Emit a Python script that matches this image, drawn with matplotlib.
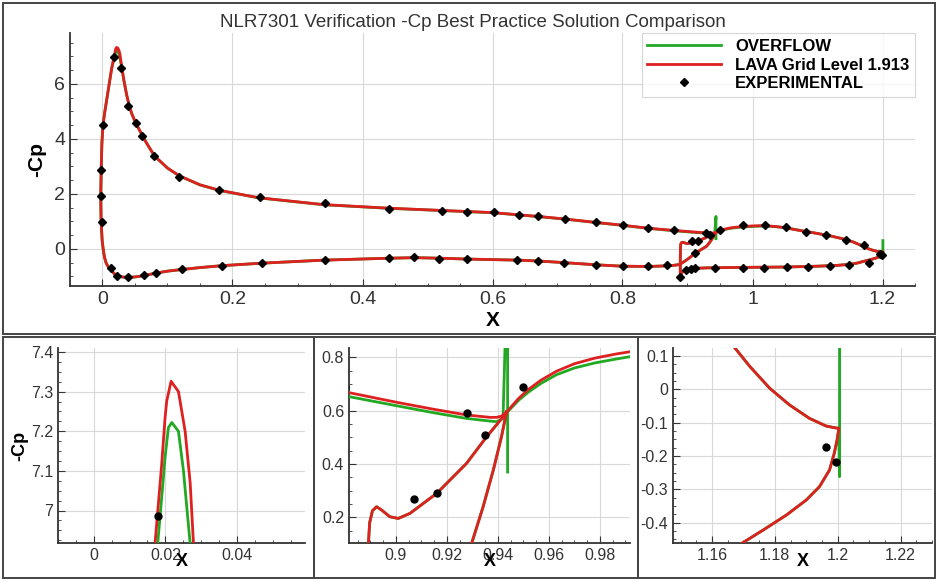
import matplotlib
matplotlib.use("Agg")
import matplotlib.pyplot as plt
from matplotlib.patches import Rectangle
from matplotlib.ticker import MultipleLocator, FuncFormatter

plt.rcParams["font.family"] = ["Liberation Sans", "DejaVu Sans"]
plt.rcParams["axes.unicode_minus"] = False

# LAVA main element: trailing edge -> upper surface -> leading edge -> lower surface -> cove -> trailing edge
lava_main_x = [0.9434, 0.9415, 0.9395, 0.9369, 0.9277, 0.915, 0.900, 0.8817, 0.860, 0.840,
               0.800, 0.760, 0.710, 0.670, 0.640, 0.600, 0.560, 0.520, 0.440, 0.340,
               0.240, 0.180, 0.150, 0.118, 0.100, 0.080, 0.067, 0.061, 0.056, 0.051,
               0.045, 0.041, 0.037, 0.033, 0.0305, 0.0292, 0.02785, 0.02692, 0.02551, 0.02365,
               0.02159, 0.02037, 0.01991, 0.01897, 0.01804, 0.0171, 0.014, 0.010, 0.006, 0.003,
               0.0013, 0.0005, -0.0010, -0.0020, -0.0028, -0.0022, -0.0005, 0.0010, 0.0030, 0.0057,
               0.0095, 0.0134, 0.018, 0.0235, 0.030, 0.039, 0.050, 0.062, 0.0825, 0.100,
               0.122, 0.150, 0.184, 0.245, 0.340, 0.440, 0.480, 0.520, 0.560, 0.600,
               0.640, 0.670, 0.710, 0.760, 0.800, 0.840, 0.865, 0.878, 0.888, 0.900,
               0.912, 0.922, 0.9297, 0.9342, 0.9382, 0.9414, 0.9434]
lava_main_cp = [0.596, 0.580, 0.575, 0.575, 0.584, 0.605, 0.632, 0.6675, 0.710, 0.750,
                0.860, 0.960, 1.090, 1.180, 1.240, 1.320, 1.360, 1.400, 1.480, 1.610,
                1.860, 2.130, 2.330, 2.660, 2.940, 3.380, 3.880, 4.140, 4.360, 4.580,
                4.920, 5.220, 5.620, 6.120, 6.480, 6.680, 6.916, 7.070, 7.200, 7.300,
                7.326, 7.276, 7.234, 7.117, 7.017, 6.916, 6.550, 5.950, 5.350, 4.900,
                4.600, 4.450, 3.800, 2.900, 1.930, 1.000, 0.300, 0.000, -0.300, -0.520,
                -0.680, -0.780, -0.900, -0.980, -1.020, -1.040, -1.020, -0.980, -0.880, -0.810,
                -0.750, -0.680, -0.610, -0.520, -0.410, -0.340, -0.320, -0.340, -0.370, -0.390,
                -0.410, -0.440, -0.500, -0.580, -0.630, -0.640, -0.620, -0.600, -0.570, -0.380,
                -0.160, -0.010, 0.1025, 0.240, 0.3775, 0.5025, 0.596]

# OVERFLOW main element (trailing edge closure drawn as a vertical stroke)
ovf_main_x = [0.9438, 0.9438, 0.9420, 0.9395, 0.9369, 0.9277, 0.915, 0.900, 0.8817, 0.860,
              0.840, 0.800, 0.760, 0.710, 0.670, 0.640, 0.600, 0.560, 0.520, 0.440,
              0.340, 0.240, 0.180, 0.150, 0.118, 0.100, 0.080, 0.067, 0.061, 0.056,
              0.051, 0.045, 0.041, 0.037, 0.033, 0.0305, 0.0292, 0.02692, 0.02598, 0.02505,
              0.02365, 0.02178, 0.02084, 0.01991, 0.01897, 0.01785, 0.014, 0.010, 0.006, 0.003,
              0.0013, 0.0005, -0.0010, -0.0020, -0.0028, -0.0022, -0.0005, 0.0010, 0.0030, 0.0057,
              0.0095, 0.0134, 0.018, 0.0235, 0.030, 0.039, 0.050, 0.062, 0.0825, 0.100,
              0.122, 0.150, 0.184, 0.245, 0.340, 0.440, 0.480, 0.520, 0.560, 0.600,
              0.640, 0.670, 0.710, 0.760, 0.800, 0.840, 0.865, 0.878, 0.888, 0.900,
              0.912, 0.922, 0.9297, 0.9342, 0.9382, 0.9414, 0.9434]
ovf_main_cp = [0.370, 1.180, 0.571, 0.559, 0.561, 0.571, 0.592, 0.619, 0.6525, 0.700,
               0.745, 0.855, 0.955, 1.085, 1.175, 1.235, 1.315, 1.355, 1.395, 1.475,
               1.605, 1.855, 2.125, 2.325, 2.655, 2.935, 3.375, 3.875, 4.135, 4.355,
               4.575, 4.915, 5.215, 5.615, 6.115, 6.475, 6.670, 6.916, 7.008, 7.100,
               7.200, 7.222, 7.209, 7.134, 7.033, 6.916, 6.550, 5.950, 5.350, 4.900,
               4.600, 4.450, 3.800, 2.900, 1.930, 1.000, 0.300, 0.000, -0.300, -0.520,
               -0.680, -0.780, -0.900, -0.980, -1.020, -1.040, -1.020, -0.980, -0.880, -0.810,
               -0.750, -0.680, -0.610, -0.520, -0.410, -0.340, -0.320, -0.340, -0.370, -0.390,
               -0.410, -0.440, -0.500, -0.580, -0.630, -0.640, -0.620, -0.600, -0.570, -0.380,
               -0.160, -0.010, 0.1025, 0.240, 0.3775, 0.5025, 0.596]

# LAVA flap: trailing edge -> upper surface -> leading edge -> lower surface -> trailing edge
lava_flap_x = [1.2003, 1.1989, 1.1963, 1.1910, 1.1847, 1.1784, 1.1721, 1.1674, 1.155, 1.140,
               1.120, 1.100, 1.080, 1.050, 1.035, 1.020, 1.010, 1.000, 0.9918, 0.986,
               0.978, 0.970, 0.963, 0.957, 0.952, 0.948, 0.9447, 0.9421, 0.9356, 0.9277,
               0.916, 0.9055, 0.9009, 0.8976, 0.8944, 0.8924, 0.8908, 0.8897, 0.8892, 0.8889,
               0.8889, 0.8891, 0.8900, 0.8920, 0.8950, 0.900, 0.910, 0.930, 0.960, 1.000,
               1.050, 1.100, 1.130, 1.150, 1.1625, 1.1695, 1.1763, 1.1837, 1.1900, 1.1942,
               1.1974, 1.1989, 1.1998, 1.2003]
lava_flap_cp = [-0.117, -0.115, -0.110, -0.087, -0.047, 0.003, 0.068, 0.123, 0.250, 0.360,
                0.470, 0.560, 0.640, 0.770, 0.815, 0.840, 0.842, 0.834, 0.821, 0.812,
                0.797, 0.776, 0.748, 0.715, 0.680, 0.645, 0.609, 0.5775, 0.5025, 0.4025,
                0.290, 0.215, 0.196, 0.2025, 0.2275, 0.240, 0.225, 0.180, 0.100, -0.400,
                -0.850, -0.980, -0.930, -0.840, -0.780, -0.740, -0.710, -0.690, -0.680, -0.670,
                -0.660, -0.630, -0.600, -0.560, -0.510, -0.462, -0.422, -0.377, -0.332, -0.292,
                -0.242, -0.192, -0.152, -0.122]

# OVERFLOW flap (trailing edge closure drawn as a vertical stroke)
ovf_flap_x = [1.2003, 1.1989, 1.1963, 1.1910, 1.1847, 1.1784, 1.1721, 1.1674, 1.155, 1.140,
              1.120, 1.100, 1.080, 1.050, 1.035, 1.020, 1.010, 1.000, 0.9918, 0.986,
              0.978, 0.970, 0.963, 0.957, 0.952, 0.948, 0.9447, 0.9421, 0.9356, 0.9277,
              0.916, 0.9055, 0.9009, 0.8976, 0.8944, 0.8924, 0.8908, 0.8897, 0.8892, 0.8889,
              0.8889, 0.8891, 0.8900, 0.8920, 0.8950, 0.900, 0.910, 0.930, 0.960, 1.000,
              1.050, 1.100, 1.130, 1.150, 1.1625, 1.1695, 1.1763, 1.1837, 1.1900, 1.1942,
              1.1974, 1.1989, 1.1998, 1.2003, 1.2006, 1.2006]
ovf_flap_cp = [-0.117, -0.115, -0.110, -0.087, -0.047, 0.003, 0.068, 0.123, 0.250, 0.360,
               0.470, 0.560, 0.640, 0.770, 0.810, 0.830, 0.826, 0.815, 0.8025, 0.793,
               0.779, 0.760, 0.735, 0.703, 0.670, 0.638, 0.605, 0.5775, 0.5025, 0.4025,
               0.290, 0.215, 0.196, 0.2025, 0.2275, 0.240, 0.225, 0.180, 0.100, -0.400,
               -0.850, -0.980, -0.930, -0.840, -0.780, -0.740, -0.710, -0.690, -0.680, -0.670,
               -0.660, -0.630, -0.600, -0.560, -0.510, -0.462, -0.422, -0.377, -0.332, -0.292,
               -0.242, -0.192, -0.152, -0.122, -0.262, 0.300]

# experimental pressure taps
exp_x = [-0.0005, -0.0028, -0.0020, 0.0005, 0.0179, 0.0280, 0.040, 0.051, 0.061, 0.079,
         0.118, 0.180, 0.243, 0.343, 0.441, 0.522, 0.561, 0.602, 0.641, 0.670,
         0.712, 0.760, 0.801, 0.840, 0.880, 0.928,
         0.0134, 0.022, 0.039, 0.0645, 0.0825, 0.122, 0.184, 0.245, 0.343, 0.441,
         0.479, 0.518, 0.561, 0.638, 0.670, 0.710, 0.759, 0.801, 0.839, 0.869, 0.912,
         0.907, 0.916, 0.935, 0.950, 0.986, 1.020, 1.051, 1.082, 1.113, 1.144, 1.172,
         0.889, 0.897, 0.905, 0.912, 0.943, 0.986, 1.017, 1.053, 1.085, 1.119, 1.148,
         1.180, 1.1963, 1.1995]
exp_cp = [0.99, 1.93, 2.87, 4.51, 6.985, 6.57, 5.20, 4.57, 4.11, 3.36,
          2.63, 2.15, 1.88, 1.66, 1.45, 1.38, 1.33, 1.34, 1.24, 1.18,
          1.09, 0.97, 0.87, 0.75, 0.69, 0.59,
          -0.70, -0.97, -1.03, -0.96, -0.88, -0.74, -0.61, -0.52, -0.40, -0.33,
          -0.30, -0.35, -0.36, -0.40, -0.44, -0.50, -0.58, -0.64, -0.64, -0.59, -0.16,
          0.27, 0.29, 0.51, 0.69, 0.87, 0.86, 0.78, 0.63, 0.51, 0.33, 0.15,
          -1.03, -0.76, -0.74, -0.70, -0.70, -0.68, -0.68, -0.67, -0.66, -0.64, -0.60,
          -0.52, -0.172, -0.217]

GREEN = "#22a822"
RED = "#dd2020"
GRAY = "#333333"
GRID = "#d9d9d9"


def draw_curves(ax, lw, ms, marker):
    ax.plot(ovf_main_x, ovf_main_cp, color=GREEN, lw=lw, label="OVERFLOW", zorder=3)
    ax.plot(ovf_flap_x, ovf_flap_cp, color=GREEN, lw=lw, zorder=3)
    ax.plot(lava_main_x, lava_main_cp, color=RED, lw=lw, label="LAVA Grid Level 1.913", zorder=4)
    ax.plot(lava_flap_x, lava_flap_cp, color=RED, lw=lw, zorder=4)
    ax.plot(exp_x, exp_cp, ls="none", marker=marker, ms=ms, color="black",
            label="EXPERIMENTAL", zorder=5)


def style_axes(ax, size):
    for side in ["top", "right"]:
        ax.spines[side].set_visible(False)
    for side in ["left", "bottom"]:
        ax.spines[side].set_color(GRAY)
        ax.spines[side].set_linewidth(1.3)
    ax.grid(True, color=GRID, lw=0.8, zorder=0)
    ax.set_axisbelow(True)
    ax.tick_params(which="both", direction="in", colors=GRAY, labelsize=size)
    ax.tick_params(which="major", length=5)
    ax.tick_params(which="minor", length=2.5)
    ax.xaxis.set_major_formatter(FuncFormatter(lambda v, p: "%g" % round(v, 6)))
    ax.yaxis.set_major_formatter(FuncFormatter(lambda v, p: "%g" % round(v, 6)))


fig = plt.figure(figsize=(9.37, 5.81), dpi=100)

# panel frames
for (x0, y0, x1, y1) in [(3, 3, 935, 334), (3, 337, 314, 578), (314, 337, 638, 578), (638, 337, 935, 578)]:
    fig.add_artist(Rectangle((x0 / 937, 1 - y1 / 581), (x1 - x0) / 937, (y1 - y0) / 581,
                             transform=fig.transFigure, fill=False, ec="#444444", lw=1.4))

# main plot
ax = fig.add_axes([70 / 937, 1 - 286 / 581, 845 / 937, 253 / 581])
draw_curves(ax, 2.0, 4.5, "D")
style_axes(ax, 14)
ax.set_xlim(-0.05, 1.25)
ax.set_ylim(-1.35, 7.85)
ax.xaxis.set_major_locator(MultipleLocator(0.2))
ax.xaxis.set_minor_locator(MultipleLocator(0.05))
ax.yaxis.set_major_locator(MultipleLocator(2))
ax.yaxis.set_minor_locator(MultipleLocator(0.5))
ax.set_xlabel("X", fontsize=15, fontweight="bold", labelpad=2)
ax.set_ylabel("-Cp", fontsize=15, fontweight="bold", labelpad=6)
ax.set_title("NLR7301 Verification -Cp Best Practice Solution Comparison",
             fontsize=13.5, color=GRAY, pad=4, x=0.477)
leg = ax.legend(loc="upper right", bbox_to_anchor=(1.0, 1.0), borderaxespad=0,
                handlelength=4.4, handletextpad=0.85, labelspacing=0.22, borderpad=0.35,
                fancybox=False, edgecolor="#cccccc", prop={"weight": "bold", "size": 12})
leg.get_frame().set_linewidth(0.8)

# zoomed insets
inset_specs = [
    ([58, 305], (-0.01, 0.059), (6.918, 7.41), 0.02, 0.1, True),
    ([349, 630], (0.8816, 0.9918), (0.104, 0.835), 0.02, 0.2, False),
    ([673, 932], (1.1476, 1.23), (-0.461, 0.124), 0.02, 0.1, False),
]
for (xl, xr), xlim, ylim, dx, dy, with_ylabel in inset_specs:
    a = fig.add_axes([xl / 937, 1 - 543 / 581, (xr - xl) / 937, 195 / 581])
    draw_curves(a, 2.0, 5, "o")
    style_axes(a, 11.5)
    a.set_xlim(*xlim)
    a.set_ylim(*ylim)
    a.xaxis.set_major_locator(MultipleLocator(dx))
    a.yaxis.set_major_locator(MultipleLocator(dy))
    a.xaxis.set_minor_locator(MultipleLocator(dx / 4))
    a.yaxis.set_minor_locator(MultipleLocator(dy / 4))
    a.set_xlabel("X", fontsize=13, fontweight="bold", labelpad=-7)
    if with_ylabel:
        a.set_ylabel("-Cp", fontsize=13, fontweight="bold", labelpad=2)

fig.savefig("out.png", dpi=100)
